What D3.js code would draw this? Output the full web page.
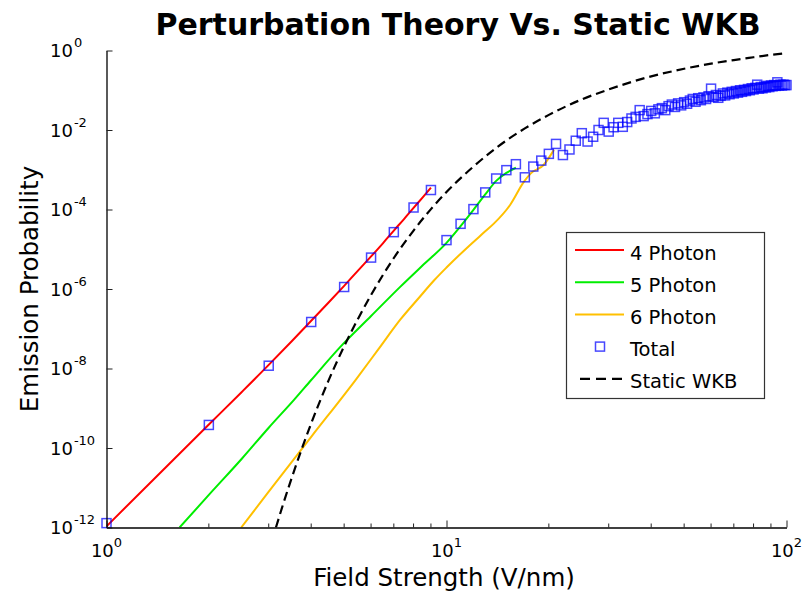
<!DOCTYPE html>
<html>
<head>
<meta charset="utf-8">
<script src="https://cdn.jsdelivr.net/npm/d3@7"></script>
<style>
  html, body { margin: 0; padding: 0; background: #fff; }
  svg { display: block; font-family: Verdana, "DejaVu Sans", sans-serif; }
</style>
</head>
<body>
<svg id="chart" width="807" height="591"></svg>
<script>
// ---------------- DATA (values stored as log10 of probability) ----------------
const title = "Perturbation Theory Vs. Static WKB";
const xLabel = "Field Strength (V/nm)";
const yLabel = "Emission Probability";

const xTickExps = [0, 1, 2];
const yTickExps = [0, -2, -4, -6, -8, -10, -12];

const seriesNames = ["4 Photon", "5 Photon", "6 Photon", "Total", "Static WKB"];

const photon4X   = [1, 1.5, 2, 2.5, 3, 3.5, 4, 4.5, 5, 5.5, 6, 6.5, 7, 7.5, 8, 8.5, 9];
const photon4Log = [-11.97, -10.47, -9.41, -8.59, -7.91, -7.32, -6.80, -6.34, -5.92, -5.53, -5.18, -4.85, -4.53, -4.24, -3.96, -3.70, -3.45];

const photon5X   = [1.64, 2, 2.5, 3, 3.56, 4, 4.88, 6, 7.32, 8.5, 10, 11, 12, 13, 14, 15, 16];
const photon5Log = [-12.0, -11.18, -10.27, -9.49, -8.79, -8.29, -7.45, -6.68, -5.94, -5.41, -4.84, -4.42, -4.01, -3.62, -3.28, -3.08, -2.95];

const photon6X   = [2.49, 3, 4, 5.4, 6.3, 7.33, 8.3, 9.2, 10, 11.5, 13, 13.8, 15.4, 16.9, 17.7, 19.3, 20.7];
const photon6Log = [-12.0, -11.1, -9.72, -8.29, -7.52, -6.76, -6.22, -5.78, -5.46, -4.96, -4.55, -4.35, -3.88, -3.30, -3.09, -2.88, -2.50];

const wkbX   = [3.15, 3.3, 3.5, 3.75, 4, 4.5, 5, 5.5, 6, 7, 8, 9, 10, 12, 14, 17, 20, 25, 30, 40, 50, 60, 70, 80, 90, 100];
const wkbLog = [-12.0, -11.44, -10.77, -10.03, -9.38, -8.30, -7.44, -6.74, -6.15, -5.22, -4.53, -3.99, -3.56, -2.92, -2.45, -1.96, -1.62, -1.23, -0.98, -0.65, -0.46, -0.33, -0.24, -0.17, -0.11, -0.07];

// Total: one square per integer field strength 1..100
const totalX = d3.range(1, 101);
const totalLog = [
  -11.89, -9.42, -7.93, -6.83, -5.95, -5.21, -4.57, -3.95, -3.51, -4.77,
  -4.36, -3.99, -3.57, -3.22, -3.01, -2.86, -3.19, -2.92, -2.77, -2.60,
  -2.35, -2.63, -2.49, -2.27, -2.08, -2.29, -2.17, -2.00, -1.82, -2.04,
  -1.93, -1.82, -1.92, -1.80, -1.71, -1.67, -1.50, -1.65, -1.60, -1.52,
  -1.58, -1.48, -1.45, -1.50, -1.40, -1.36, -1.42, -1.33, -1.38, -1.30,
  -1.34, -1.26, -1.22, -1.29, -1.20, -1.25, -1.18, -1.22, -1.15, -0.96,
  -1.17, -1.12, -1.19, -1.14, -1.08, -1.13, -1.06, -1.10, -1.04, -1.08,
  -1.02, -1.06, -1.00, -1.04, -0.99, -1.02, -0.97, -1.00, -0.95, -0.98,
  -0.94, -0.86, -0.96, -0.92, -0.95, -0.91, -0.93, -0.89, -0.92, -0.88,
  -0.90, -0.87, -0.89, -0.80, -0.88, -0.86, -0.88, -0.86, -0.87, -0.87
];

// ---------------- CHART ----------------
const svg = d3.select("#chart");
const plot = { left: 106.5, right: 786.5, top: 50.5, bottom: 527.5 };

const x = d3.scaleLog().domain([1, 100]).range([plot.left, plot.right]);
const y = d3.scaleLog().domain([1e-12, 1]).range([plot.bottom, plot.top]);

const colors = { p4: "#ff0000", p5: "#00ee00", p6: "#ffc000", total: "#0000ff", wkb: "#000000" };

svg.append("defs").append("clipPath").attr("id", "clip")
  .append("rect")
  .attr("x", plot.left).attr("y", plot.top)
  .attr("width", plot.right - plot.left).attr("height", plot.bottom - plot.top);

const toPts = (xs, ls) => xs.map((v, i) => [v, Math.pow(10, ls[i])]);
const smooth = d3.line().x(d => x(d[0])).y(d => y(d[1])).curve(d3.curveMonotoneX);

const g = svg.append("g").attr("clip-path", "url(#clip)");

g.append("path").datum(toPts(photon6X, photon6Log))
  .attr("fill", "none").attr("stroke", colors.p6).attr("stroke-width", 2).attr("d", smooth);
g.append("path").datum(toPts(photon5X, photon5Log))
  .attr("fill", "none").attr("stroke", colors.p5).attr("stroke-width", 2).attr("d", smooth);
g.append("path").datum(toPts(photon4X, photon4Log))
  .attr("fill", "none").attr("stroke", colors.p4).attr("stroke-width", 2).attr("d", smooth);
g.append("path").datum(toPts(wkbX, wkbLog))
  .attr("fill", "none").attr("stroke", colors.wkb).attr("stroke-width", 2.2)
  .attr("stroke-dasharray", "9,5").attr("d", smooth);

const sq = 9;
svg.append("g").selectAll("rect")
  .data(toPts(totalX, totalLog))
  .join("rect")
  .attr("x", d => x(d[0]) - sq / 2)
  .attr("y", d => y(d[1]) - sq / 2)
  .attr("width", sq).attr("height", sq)
  .attr("fill", "none")
  .attr("stroke", colors.total)
  .attr("stroke-opacity", 0.72)
  .attr("stroke-width", 1.5);

// ---------------- AXES ----------------
const xMinor = [];
for (let dec = 1; dec < 100; dec *= 10) for (let k = 2; k <= 9; k++) xMinor.push(k * dec);

const xAxis = d3.axisBottom(x)
  .tickValues(xTickExps.map(e => Math.pow(10, e)))
  .tickSizeInner(-7).tickSizeOuter(0).tickFormat("");
const xg = svg.append("g").attr("transform", `translate(0,${plot.bottom})`).call(xAxis);
xg.selectAll(".tick line").attr("stroke", "#222");
xg.select(".domain").attr("stroke", "#000").attr("stroke-width", 1.3);

xg.selectAll(".minor").data(xMinor).join("line")
  .attr("class", "minor")
  .attr("x1", d => x(d)).attr("x2", d => x(d))
  .attr("y1", 0).attr("y2", -4)
  .attr("stroke", "#222");

const yAxis = d3.axisLeft(y)
  .tickValues(yTickExps.map(e => Math.pow(10, e)))
  .tickSizeInner(-6).tickSizeOuter(0).tickFormat("");
const yg = svg.append("g").attr("transform", `translate(${plot.left},0)`).call(yAxis);
yg.selectAll(".tick line").attr("stroke", "#222");
yg.select(".domain").attr("stroke", "#000").attr("stroke-width", 1.3);

// tick labels (10 with superscript exponent)
const tickFont = 18, supFont = 13;
xTickExps.forEach(e => {
  const t = svg.append("text")
    .attr("x", x(Math.pow(10, e))).attr("y", 557)
    .attr("text-anchor", "middle")
    .attr("font-size", tickFont).attr("fill", "#000");
  t.append("tspan").text("10");
  t.append("tspan").attr("dy", -10).attr("font-size", supFont).text(String(e));
});
yTickExps.forEach(e => {
  const t = svg.append("text")
    .attr("x", 50).attr("y", y(Math.pow(10, e)) + 6.5)
    .attr("text-anchor", "start")
    .attr("font-size", tickFont).attr("fill", "#000");
  t.append("tspan").text("10");
  t.append("tspan").attr("dy", -10).attr("dx", 1).attr("font-size", supFont).text(String(e));
});

// axis labels & title
svg.append("text")
  .attr("x", 444).attr("y", 586)
  .attr("text-anchor", "middle").attr("font-size", 24.5).attr("fill", "#000")
  .text(xLabel);
svg.append("text")
  .attr("transform", `translate(38,${(plot.top + plot.bottom) / 2}) rotate(-90)`)
  .attr("text-anchor", "middle").attr("font-size", 24.5).attr("fill", "#000")
  .text(yLabel);
svg.append("text")
  .attr("x", 458).attr("y", 35)
  .attr("text-anchor", "middle").attr("font-size", 30).attr("font-weight", "bold").attr("fill", "#000")
  .text(title);

// ---------------- LEGEND ----------------
const lg = svg.append("g");
lg.append("rect")
  .attr("x", 566.5).attr("y", 232.5).attr("width", 198).attr("height", 166)
  .attr("fill", "#fff").attr("stroke", "#333").attr("stroke-width", 1.2);
const legendStyles = [
  { type: "line", color: colors.p4 },
  { type: "line", color: colors.p5 },
  { type: "line", color: colors.p6 },
  { type: "square", color: colors.total },
  { type: "dash", color: colors.wkb }
];
seriesNames.forEach((name, i) => {
  const cy = 250 + i * 32.2;
  const st = legendStyles[i];
  if (st.type === "line" || st.type === "dash") {
    lg.append("line")
      .attr("x1", st.type === "dash" ? 580 : 575).attr("x2", 624)
      .attr("y1", cy).attr("y2", cy)
      .attr("stroke", st.color).attr("stroke-width", st.type === "dash" ? 2.2 : 2)
      .attr("stroke-dasharray", st.type === "dash" ? "10,6" : null);
  } else {
    lg.append("rect")
      .attr("x", 600 - sq / 2).attr("y", cy - sq / 2)
      .attr("width", sq).attr("height", sq)
      .attr("fill", "none").attr("stroke", st.color)
      .attr("stroke-opacity", 0.72).attr("stroke-width", 1.5);
  }
  lg.append("text")
    .attr("x", 630).attr("y", cy + 9.5)
    .attr("font-size", 19.5).attr("fill", "#000")
    .text(name);
});
</script>
</body>
</html>
